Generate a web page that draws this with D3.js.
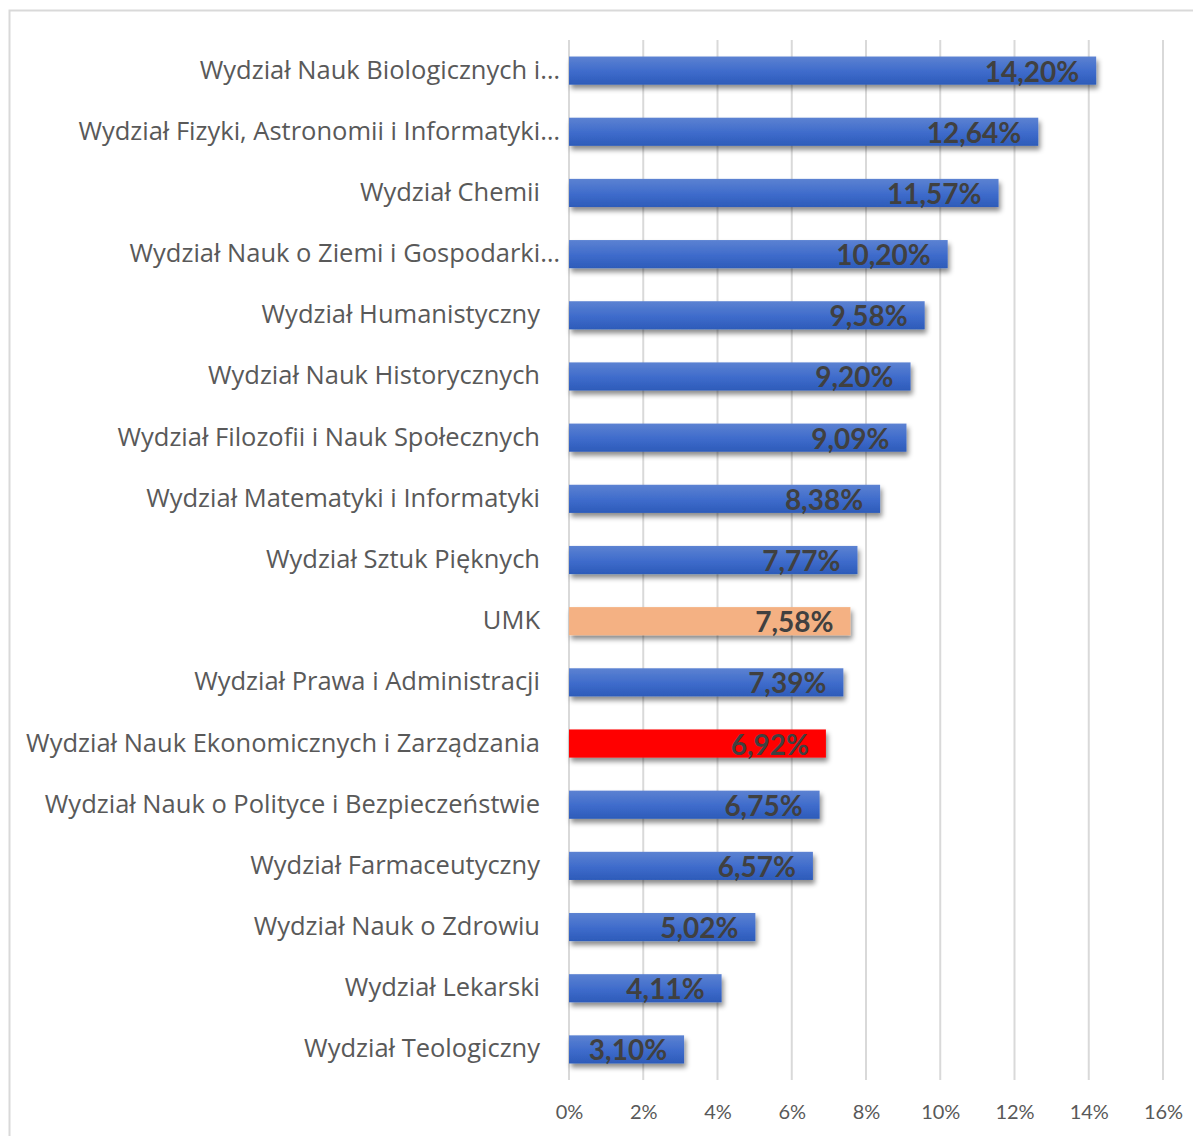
<!DOCTYPE html>
<html>
<head>
<meta charset="utf-8">
<script src="https://cdn.jsdelivr.net/npm/d3@7"></script>
<style>
  body { margin: 0; background: #fff; }
  svg { display: block; font-family: Lato, "Open Sans", sans-serif; }
</style>
</head>
<body>
<div id="chart"></div>
<script>
// faculties, top to bottom
var categories = [
	"Wydział Nauk Biologicznych i…",
	"Wydział Fizyki, Astronomii i Informatyki…",
	"Wydział Chemii",
	"Wydział Nauk o Ziemi i Gospodarki…",
	"Wydział Humanistyczny",
	"Wydział Nauk Historycznych",
	"Wydział Filozofii i Nauk Społecznych",
	"Wydział Matematyki i Informatyki",
	"Wydział Sztuk Pięknych",
	"UMK",
	"Wydział Prawa i Administracji",
	"Wydział Nauk Ekonomicznych i Zarządzania",
	"Wydział Nauk o Polityce i Bezpieczeństwie",
	"Wydział Farmaceutyczny",
	"Wydział Nauk o Zdrowiu",
	"Wydział Lekarski",
	"Wydział Teologiczny"
];
var values = [14.20, 12.64, 11.57, 10.20, 9.58, 9.20, 9.09, 8.38, 7.77, 7.58, 7.39, 6.92, 6.75, 6.57, 5.02, 4.11, 3.10];
var ticks = [0, 2, 4, 6, 8, 10, 12, 14, 16];
var highlight = { "UMK": "umk", "Wydział Nauk Ekonomicznych i Zarządzania": "red" };

var width = 1193,
	height = 1136,
	plotLeft = 569,
	plotRight = 1163,
	plotTop = 40,
	plotBottom = 1080;

var svg = d3.select("#chart").append("svg")
	.attr("width", width)
	.attr("height", height);

var defs = svg.append("defs");
var grad = defs.append("linearGradient")
	.attr("id", "blue")
	.attr("x1", 0).attr("y1", 0).attr("x2", 0).attr("y2", 1);
grad.append("stop").attr("offset", "0%").attr("stop-color", "#5c82d2");
grad.append("stop").attr("offset", "55%").attr("stop-color", "#3e6bcb");
grad.append("stop").attr("offset", "100%").attr("stop-color", "#2d5bb9");

var shadow = defs.append("filter")
	.attr("id", "shadow")
	.attr("x", "-5%").attr("y", "-30%").attr("width", "115%").attr("height", "180%");
shadow.append("feDropShadow")
	.attr("dx", 2).attr("dy", 4).attr("stdDeviation", 2.5)
	.attr("flood-color", "#000").attr("flood-opacity", 0.45);

// chart frame
svg.append("rect")
	.attr("x", 9.5).attr("y", 10.5)
	.attr("width", 1200).attr("height", 1200)
	.attr("fill", "none")
	.attr("stroke", "#d9d9d9")
	.attr("stroke-width", 2);

var x = d3.scaleLinear().domain([0, 16]).range([plotLeft, plotRight]);
var y = d3.scaleBand().domain(categories).range([plotTop, plotBottom]).paddingInner(0.54).paddingOuter(0.27);

// grid
svg.append("g")
	.selectAll("line")
	.data(ticks)
	.enter().append("line")
	.attr("x1", function(d) { return x(d); })
	.attr("x2", function(d) { return x(d); })
	.attr("y1", plotTop)
	.attr("y2", plotBottom)
	.attr("stroke", "#d9d9d9")
	.attr("stroke-width", 2);

// tick labels
var xAxis = d3.axisBottom(x)
	.tickValues(ticks)
	.tickSize(0)
	.tickPadding(0)
	.tickFormat(function(d) { return d + "%"; });

var ax = svg.append("g")
	.attr("transform", "translate(0," + 1105 + ")")
	.call(xAxis);
ax.select(".domain").remove();
ax.selectAll("text")
	.attr("fill", "#595959")
	.style("font-size", "20px")
	.style("font-family", "Lato, sans-serif");

// bars
svg.append("g")
	.selectAll("rect")
	.data(categories)
	.enter().append("rect")
	.attr("x", x(0))
	.attr("y", function(d) { return y(d); })
	.attr("width", function(d, i) { return x(values[i]) - x(0); })
	.attr("height", y.bandwidth())
	.attr("fill", function(d) {
		if (highlight[d] == "umk") return "#f4b183";
		if (highlight[d] == "red") return "#ff0000";
		return "url(#blue)";
	})
	.attr("filter", "url(#shadow)");

// value labels
svg.append("g")
	.selectAll("text")
	.data(categories)
	.enter().append("text")
	.attr("x", function(d, i) { return x(values[i]) - 17; })
	.attr("y", function(d) { return y(d) + y.bandwidth() / 2 + 11; })
	.attr("text-anchor", "end")
	.attr("fill", "#404040")
	.style("font-size", "28px")
	.style("font-weight", "bold")
	.text(function(d, i) { return values[i].toFixed(2).replace(".", ",") + "%"; });

// category labels
svg.append("g")
	.selectAll("text")
	.data(categories)
	.enter().append("text")
	.attr("x", function(d) { return d.slice(-1) == "…" ? 560 : 540; })
	.attr("y", function(d) { return y(d) + y.bandwidth() / 2 + 8; })
	.attr("text-anchor", "end")
	.attr("fill", "#595959")
	.style("font-size", "25.5px")
	.style("font-family", "'Open Sans', sans-serif")
	.text(function(d) { return d; });
</script>
</body>
</html>
